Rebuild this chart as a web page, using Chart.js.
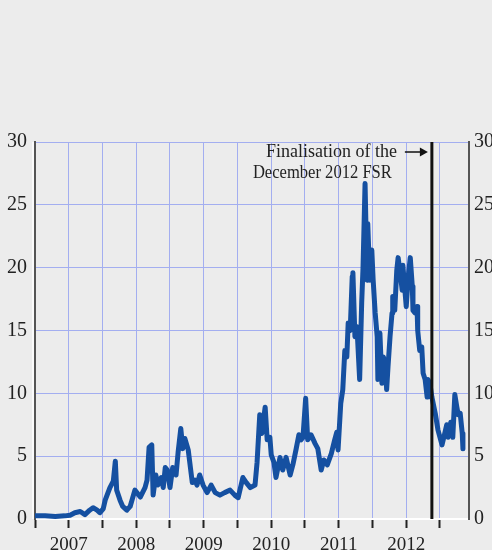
<!DOCTYPE html>
<html>
<head>
<meta charset="utf-8">
<script src="https://cdn.jsdelivr.net/npm/chart.js@4.4.0/dist/chart.umd.min.js"></script>
<style>
  html, body { margin: 0; background: #ececec; }
  #wrap { width: 492px; height: 550px; }
</style>
</head>
<body>
<div id="wrap"><canvas id="spread-chart" width="492" height="550"></canvas></div>
<script>
// dates as decimal years
const dates = [
  2007.00, 2007.15, 2007.30, 2007.44, 2007.52, 2007.59, 2007.67, 2007.74, 2007.81, 2007.86,
  2007.92, 2007.96, 2008.01, 2008.04, 2008.11, 2008.16, 2008.19, 2008.21, 2008.26, 2008.30,
  2008.36, 2008.41, 2008.48,
  2008.56, 2008.63, 2008.66, 2008.69, 2008.73, 2008.75, 2008.79, 2008.82, 2008.87, 2008.90,
  2008.93, 2008.96, 2009.00, 2009.04, 2009.09, 2009.12, 2009.16, 2009.19, 2009.22, 2009.27,
  2009.33, 2009.37, 2009.40, 2009.44, 2009.49, 2009.55, 2009.61, 2009.67, 2009.74, 2009.81,
  2009.89, 2009.96, 2010.01,
  2010.08, 2010.13, 2010.19, 2010.26, 2010.29, 2010.33, 2010.36, 2010.41, 2010.44, 2010.48,
  2010.50, 2010.54, 2010.57, 2010.63, 2010.67, 2010.72, 2010.78, 2010.82, 2010.87, 2010.91,
  2010.94, 2010.97, 2011.01, 2011.04, 2011.09, 2011.15, 2011.19, 2011.24, 2011.28, 2011.33,
  2011.39, 2011.44, 2011.47, 2011.49,
  2011.53, 2011.56, 2011.59, 2011.62, 2011.64, 2011.67, 2011.70, 2011.71, 2011.74, 2011.77,
  2011.81, 2011.84, 2011.86, 2011.89, 2011.92, 2011.93, 2011.96, 2011.99, 2012.01, 2012.04,
  2012.07, 2012.08, 2012.11, 2012.14, 2012.16, 2012.19, 2012.21, 2012.23, 2012.26, 2012.29,
  2012.30, 2012.33, 2012.36, 2012.38, 2012.41, 2012.44, 2012.45, 2012.50, 2012.53, 2012.56,
  2012.59, 2012.60, 2012.63, 2012.66, 2012.67, 2012.70, 2012.73, 2012.75, 2012.78, 2012.81,
  2012.82, 2012.85, 2012.88, 2012.93, 2012.97, 2013.03, 2013.07, 2013.10, 2013.12, 2013.16,
  2013.19, 2013.22, 2013.25, 2013.27, 2013.30, 2013.33, 2013.34
];
const spread = [
  0.25, 0.25, 0.2, 0.25, 0.3, 0.5, 0.6, 0.35, 0.7, 0.9,
  0.7, 0.5, 0.8, 1.5, 2.5, 3.0, 4.6, 2.3, 1.5, 1.0,
  0.7, 1.0, 2.3,
  1.75, 2.5, 3.1, 5.7, 5.9, 1.9, 3.5, 2.7, 3.3, 2.5,
  4.1, 3.9, 2.5, 4.1, 3.5, 5.3, 7.2, 5.6, 6.4, 5.5,
  2.9, 3.1, 2.7, 3.5, 2.7, 2.1, 2.7, 2.1, 1.9, 2.1,
  2.3, 1.9, 1.7,
  3.3, 2.9, 2.5, 2.7, 4.5, 8.3, 6.8, 8.9, 6.3, 6.5,
  5.1, 4.5, 3.3, 4.9, 3.9, 4.9, 3.5, 4.3, 5.6, 6.7,
  6.3, 6.5, 9.6, 6.3, 6.7, 6.0, 5.6, 3.9, 4.7, 4.3,
  5.2, 6.3, 6.9, 5.5,
  9.2, 10.3, 13.4, 12.9, 15.6, 15.0, 19.3, 19.6, 14.5, 15.3,
  11.1, 17.2, 20.0, 26.7, 19.0, 23.5, 19.0, 21.4, 19.0, 16.4,
  14.5, 11.1, 14.8, 10.8, 12.9, 12.4, 10.3, 12.1, 14.5, 16.4,
  17.7, 16.6, 19.8, 20.8, 19.6, 18.2, 20.2, 16.9, 19.3, 20.8,
  18.5, 16.6, 16.4, 16.9, 15.0, 13.4, 13.7, 11.6, 11.1, 9.7,
  11.1, 10.8, 9.7, 8.4, 7.1, 5.9, 6.8, 7.5, 6.5, 7.7,
  6.5, 9.9, 8.9, 8.3, 8.4, 6.8, 5.6
];
const yearLabels = ['2007', '2008', '2009', '2010', '2011', '2012'];
const yTicks = [0, 5, 10, 15, 20, 25, 30];
const fsrDate = 2012.88;
const noteLines = ['Finalisation of the', 'December 2012 FSR'];

const serif = "'Liberation Serif', 'Times New Roman', serif";
const textColor = '#222';
const gridColor = '#a3aef0';

const fsrLine = {
  id: 'fsrLine',
  beforeDatasetsDraw(chart) {
    const { ctx, chartArea: a } = chart;
    // thin white edge left of the y axis
    ctx.save();
    ctx.strokeStyle = '#fff';
    ctx.lineWidth = 1.5;
    ctx.beginPath();
    ctx.moveTo(a.left - 2, a.top);
    ctx.lineTo(a.left - 2, a.bottom);
    ctx.stroke();
    ctx.restore();
  },
  afterDatasetsDraw(chart) {
    const { ctx, chartArea: a, scales: { x } } = chart;
    const px = x.getPixelForValue(fsrDate);
    ctx.save();
    ctx.strokeStyle = '#111';
    ctx.lineWidth = 3;
    ctx.beginPath();
    ctx.moveTo(px, a.top);
    ctx.lineTo(px, a.bottom);
    ctx.stroke();

    ctx.font = '18px ' + serif;
    ctx.fillStyle = textColor;
    ctx.textAlign = 'right';
    ctx.textBaseline = 'middle';
    ctx.fillText(noteLines[0], px - 35, a.top + 10);
    ctx.fillText(noteLines[1], px - 40, a.top + 31, 139);

    // arrow
    const ay = a.top + 10;
    ctx.strokeStyle = '#111';
    ctx.lineWidth = 1.5;
    ctx.beginPath();
    ctx.moveTo(px - 27, ay);
    ctx.lineTo(px - 10, ay);
    ctx.stroke();
    ctx.fillStyle = '#111';
    ctx.beginPath();
    ctx.moveTo(px - 4, ay);
    ctx.lineTo(px - 12, ay - 4.5);
    ctx.lineTo(px - 12, ay + 4.5);
    ctx.closePath();
    ctx.fill();
    ctx.restore();
  }
};

const ctx = document.getElementById('spread-chart');
new Chart(ctx, {
  type: 'line',
  data: {
    datasets: [{
      data: dates.map((d, i) => ({ x: d, y: spread[i] })),
      borderColor: '#1550a1',
      borderWidth: 5,
      borderJoinStyle: 'round',
      borderCapStyle: 'round',
      pointRadius: 0,
      tension: 0,
      fill: false
    }]
  },
  options: {
    responsive: false,
    animation: false,
    events: [],
    layout: { padding: { top: 142, left: 0, right: 0, bottom: 0 } },
    plugins: { legend: { display: false }, tooltip: { enabled: false } },
    scales: {
      x: {
        type: 'linear',
        min: 2007,
        max: 2013.43,
        afterFit: s => { s.height = 31; },
        grid: { color: gridColor, lineWidth: 1, tickLength: 9, tickColor: '#222', tickWidth: 2 },
        border: { display: true, color: '#fff', width: 2 },
        ticks: {
          stepSize: 0.5,
          includeBounds: false,
          autoSkip: false,
          maxRotation: 0,
          padding: 6,
          color: textColor,
          font: { family: serif, size: 19 },
          callback: v => {
            const y = Math.floor(v);
            if (Math.abs(v - y - 0.5) > 0.01) return '';
            return yearLabels[y - 2007] || '';
          }
        }
      },
      y: {
        position: 'left',
        min: 0,
        max: 30,
        afterFit: s => { s.width = 35; },
        afterBuildTicks: s => { s.ticks = yTicks.map(v => ({ value: v })); },
        grid: { color: gridColor, lineWidth: 1, drawTicks: false },
        border: { display: true, color: '#555', width: 2 },
        ticks: { padding: 8, color: textColor, font: { family: serif, size: 20 } }
      },
      y2: {
        position: 'right',
        min: 0,
        max: 30,
        afterFit: s => { s.width = 23; },
        afterBuildTicks: s => { s.ticks = yTicks.map(v => ({ value: v })); },
        grid: { drawOnChartArea: false, drawTicks: false },
        border: { display: true, color: '#555', width: 2 },
        ticks: { padding: 5, color: textColor, font: { family: serif, size: 20 } }
      }
    }
  },
  plugins: [fsrLine]
});
</script>
</body>
</html>
